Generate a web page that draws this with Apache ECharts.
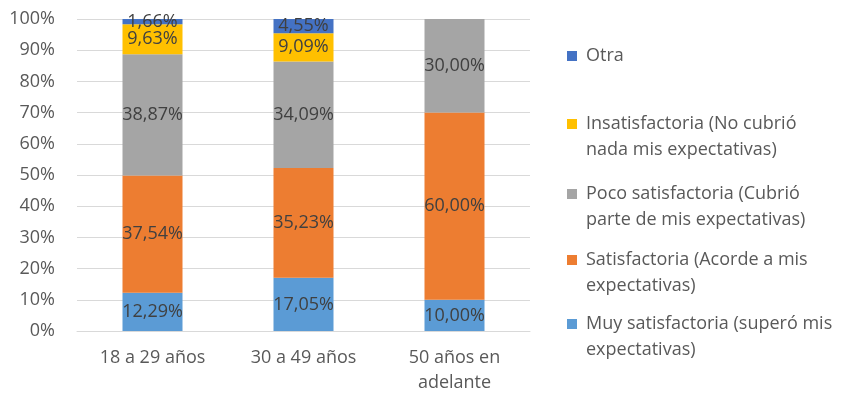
<!DOCTYPE html>
<html>
<head>
<meta charset="utf-8">
<script src="https://cdn.jsdelivr.net/npm/echarts@6/dist/echarts.min.js"></script>
<style>html,body{margin:0;padding:0;background:#fff}#c{width:853px;height:395px}</style>
</head>
<body>
<div id="c"></div>
<script>
const categories = ['18 a 29 años', '30 a 49 años', '50 años en\nadelante'];
const seriesNames = [
  'Muy satisfactoria (superó mis\nexpectativas)',
  'Satisfactoria (Acorde a mis\nexpectativas)',
  'Poco satisfactoria (Cubrió\nparte de mis expectativas)',
  'Insatisfactoria (No cubrió\nnada mis expectativas)',
  'Otra'
];
const muySatisfactoria = [12.29, 17.05, 10.00];
const satisfactoria = [37.54, 35.23, 60.00];
const pocoSatisfactoria = [38.87, 34.09, 30.00];
const insatisfactoria = [9.63, 9.09, 0];
const otra = [1.66, 4.55, 0];
const yTicks = [0, 10, 20, 30, 40, 50, 60, 70, 80, 90, 100];

const colors = ['#5B9BD5', '#ED7D31', '#A5A5A5', '#FFC000', '#4472C4'];
const values = [muySatisfactoria, satisfactoria, pocoSatisfactoria, insatisfactoria, otra];
const FONT = '"Open Sans", sans-serif';

const series = values.map((v, i) => ({
  name: seriesNames[i],
  type: 'bar',
  stack: 'total',
  barWidth: 60,
  data: v,
  itemStyle: { color: colors[i] },
  label: {
    show: true,
    position: 'inside',
    fontFamily: FONT,
    fontSize: 18,
    color: '#404040',
    formatter: p => p.value ? p.value.toFixed(2).replace('.', ',') + '%' : ''
  }
}));

const legendCenters = [56, 124, 194, 260, 324]; // Otra, Insat, Poco, Sat, Muy
const legendOrder = [4, 3, 2, 1, 0];
const legends = legendOrder.map((si, k) => ({
  data: [seriesNames[si]],
  orient: 'vertical',
  left: 567,
  top: legendCenters[k] - 13,
  padding: 0,
  itemWidth: 14,
  itemHeight: si === 4 ? 10 : 36,
  icon: si === 4 ? 'path://M0,0L10,0L10,10L0,10Z M14,10L14,10Z' : 'path://M0,0L10,0L10,10L0,10Z M14,36L14,36Z',
  textStyle: { fontFamily: FONT, fontSize: 18, color: '#595959', lineHeight: 26 }
}));

const chart = echarts.init(document.getElementById('c'));
chart.setOption({
  animation: false,
  textStyle: { fontFamily: FONT },
  grid: { left: 77, right: 323, top: 19, bottom: 64 },
  legend: legends,
  xAxis: {
    type: 'category',
    data: categories,
    axisLine: { show: true, lineStyle: { color: '#d9d9d9' } },
    axisTick: { show: false },
    axisLabel: { fontFamily: FONT, fontSize: 18, color: '#595959', margin: 14, lineHeight: 25 }
  },
  yAxis: {
    type: 'value',
    min: yTicks[0],
    max: yTicks[yTicks.length - 1],
    interval: 10,
    axisLine: { show: false },
    axisTick: { show: false },
    splitLine: { lineStyle: { color: '#d9d9d9' } },
    axisLabel: { fontFamily: FONT, fontSize: 18, color: '#595959', margin: 22, formatter: '{value}%' }
  },
  series: series
});
</script>
</body>
</html>
